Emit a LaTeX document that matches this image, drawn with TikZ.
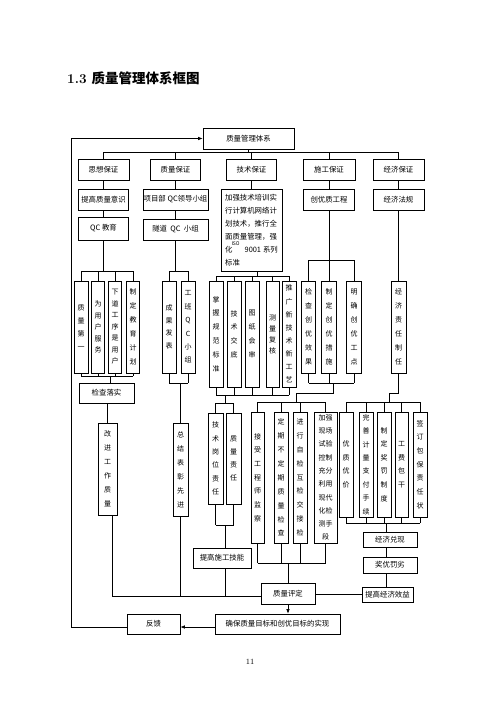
\documentclass[tikz,border=0pt]{standalone}
\usepackage{fontspec}
\newfontfamily\cjk{Noto Sans CJK SC}
\usetikzlibrary{arrows.meta}
\tikzset{
  ln/.style={line width=0.6pt},
  hbox/.style={draw, ln, inner sep=0pt, font=\cjk\fontsize{7.4}{9}\selectfont},
  vbox/.style={draw, ln, inner sep=0pt, align=center, font=\cjk\fontsize{7}{#1}\selectfont},
  vbox/.default=13.5,
  sz/.style 2 args={minimum width=#1pt, minimum height=#2pt},
  arr/.style={ln, -{Latex[length=4.5pt,width=3.5pt]}},
}
\begin{document}
\begin{tikzpicture}[x=1pt,y=-1pt]
\useasboundingbox (0,0) rectangle (500,707);
% title
\node[anchor=west, inner sep=0pt] (title) at (67,78) {\fontsize{13.5}{15}\selectfont\bfseries 1.3 {\cjk\bfseries 质量管理体系框图}};
% top
\node[hbox, sz={91}{21}] (top) at (248.5,138.5) {质量管理体系};
\node[hbox, sz={51}{21}] (ss) at (103.5,170) {思想保证};
\node[hbox, sz={50}{21}] (zb) at (175.5,170) {质量保证};
\node[hbox, sz={50}{21}] (js) at (251.5,170) {技术保证};
\node[hbox, sz={52}{21}] (sg) at (329,170) {施工保证};
\node[hbox, sz={51}{21}] (jj) at (398.5,170) {经济保证};
\coordinate (bus) at (0,152);
\draw[ln] (ss.north |- bus) -- (jj.north |- bus);
\foreach \n in {ss,zb,js,sg,jj} \draw[ln] (\n.north) -- (\n.north |- bus);
\draw[ln] (top.south) -- (top.south |- bus);
% level 3
\node[hbox, sz={50}{21}] (tg) at (103.5,199.5) {提高质量意识};
\node[hbox, sz={50}{23}] (qc) at (103.5,228.5) {QC 教育};
\node[hbox, sz={65}{21}] (xm) at (175.5,199.5) {项目部 QC领导小组};
\node[hbox, sz={65}{21}] (sd) at (175.5,229.5) {隧道\ \ QC\ \ 小组};
\node[hbox, sz={61}{82}, align=left, font=\cjk\fontsize{7.4}{13}\selectfont] (jq) at (251.5,230) {加强技术培训实\\行计算机网络计\\划技术，推行全\\面质量管理，强\\化\hspace{-1pt}\smash{\raisebox{7pt}{\fontsize{5}{5}\selectfont ISO}}\hspace{5pt}9001\hspace{2pt}系列\\标准};
\node[hbox, sz={51}{21}] (cy) at (329,199.5) {创优质工程};
\node[hbox, sz={51}{21}] (jf) at (398.5,199.5) {经济法规};
\draw[ln] (ss) -- (tg);
\draw[ln] (tg) -- (qc);
\draw[ln] (zb) -- (xm);
\draw[ln] (xm) -- (sd);
\draw[ln] (js) -- (jq);
\draw[ln] (sg) -- (cy);
\draw[ln] (jj) -- (jf);
% group A
\coordinate (abus) at (0,271);
\node[vbox=13, sz={14}{92}] (a1) at (81,327) {质\\量\\第\\一};
\node[vbox=11.5, sz={13}{92}] (a2) at (98,327) {为\\用\\户\\服\\务};
\node[vbox=11.5, sz={13}{92}] (a3) at (115,327) {下\\道\\工\\序\\是\\用\\户};
\node[vbox=14, sz={13}{92}] (a4) at (133,327) {制\\定\\教\\育\\计\\划};
\draw[ln] (a1.north |- abus) -- (a4.north |- abus);
\foreach \n in {a1,a2,a3,a4} \draw[ln] (\n.north) -- (\n.north |- abus);
\draw[ln] (qc.south) -- (qc.south |- abus);
\coordinate (abot) at (0,376);
\draw[ln] (a1.south |- abot) -- (a4.south |- abot);
\foreach \n in {a1,a2,a3,a4} \draw[ln] (\n.south) -- (\n.south |- abot);
\node[hbox, sz={55}{20}] (jc) at (106.5,393) {检查落实};
\coordinate (aj) at (110,376);
\draw[ln] (aj) -- (aj |- jc.north);
\node[vbox=14, sz={19}{92}] (gj) at (107.5,469) {改\\进\\工\\作\\质\\量};
\draw[ln] (gj.north |- jc.south) -- (gj.north);
\coordinate (lbus) at (0,596);
\coordinate (gjx) at (112,0);
\draw[ln] (gjx |- gj.south) -- (gjx |- lbus);
% group B
\node[vbox=12.5, sz={14}{92}] (b1) at (169,327) {成\\果\\发\\表};
\node[vbox=13.4, sz={14}{92}] (b2) at (188,327) {工\\班\\Q\\C\\小\\组};
\draw[ln] (b1.north |- abus) -- (b2.north |- abus);
\foreach \n in {b1,b2} \draw[ln] (\n.north) -- (\n.north |- abus);
\draw[ln] (sd.south) -- (sd.south |- abus);
\coordinate (bbot) at (0,383);
\draw[ln] (b1.south |- bbot) -- (b2.south |- bbot);
\foreach \n in {b1,b2} \draw[ln] (\n.south) -- (\n.south |- bbot);
\node[vbox=14, sz={15}{93}] (zj) at (180.5,469.5) {总\\结\\表\\彰\\先\\进};
\draw[ln] (zj.north |- bbot) -- (zj.north);
\draw[ln] (zj.south) -- (zj.south |- lbus);
% group C
\coordinate (cbus) at (0,276);
\node[vbox=13.8, sz={14}{106}] (c1) at (216,334) {掌\\握\\规\\范\\标\\准};
\node[vbox=13.7, sz={14}{106}] (c2) at (234,334) {技\\术\\交\\底};
\node[vbox=13.7, sz={14}{106}] (c3) at (252,334) {图\\纸\\会\\审};
\node[vbox=11, sz={13}{106}] (c4) at (272.5,334) {测\\量\\复\\核};
\node[vbox=13.1, sz={14}{106}] (c5) at (289,334) {推\\广\\新\\技\\术\\新\\工\\艺};
\coordinate (cj) at (257,0);
\draw[ln] (cj |- jq.south) -- (cj |- cbus);
\draw[ln] (c1.north |- cbus) -- (c5.north |- cbus);
\foreach \n in {c1,c2,c3,c4,c5} \draw[ln] (\n.north) -- (\n.north |- cbus);
\coordinate (cbot) at (0,395);
\draw[ln] (c1.south |- cbot) -- (c5.south |- cbot);
\foreach \n in {c1,c2,c3,c4,c5} \draw[ln] (\n.south) -- (\n.south |- cbot);
\coordinate (dbus) at (0,403);
\node[vbox=13.3, sz={15}{91}] (d1) at (215.5,458.5) {技\\术\\岗\\位\\责\\任};
\node[vbox=13, sz={15}{91}] (d2) at (233.5,458.5) {质\\量\\责\\任};
\coordinate (dj) at (225,0);
\draw[ln] (dj |- cbot) -- (dj |- dbus);
\draw[ln] (d1.north |- dbus) -- (d2.north |- dbus);
\foreach \n in {d1,d2} \draw[ln] (\n.north) -- (\n.north |- dbus);
\coordinate (dbot) at (0,525);
\draw[ln] (d1.south |- dbot) -- (d2.south |- dbot);
\foreach \n in {d1,d2} \draw[ln] (\n.south) -- (\n.south |- dbot);
\node[hbox, sz={58}{20}] (tgs) at (222,558) {提高施工技能};
\draw[ln] (dj |- dbot) -- (dj |- tgs.north);
\draw[ln] (dj |- tgs.south) -- (dj |- lbus);
% group D
\coordinate (ebus) at (0,260);
\node[vbox=14, sz={14}{92}] (e1) at (308.5,327) {检\\查\\创\\优\\效\\果};
\node[vbox=14, sz={15}{92}] (e2) at (329,327) {制\\定\\创\\优\\措\\施};
\node[vbox=14, sz={15}{92}] (e3) at (354,327) {明\\确\\创\\优\\工\\点};
\draw[ln] (cy) -- (e2);
\draw[ln] (e1.north |- ebus) -- (e3.north |- ebus);
\foreach \n in {e1,e3} \draw[ln] (\n.north) -- (\n.north |- ebus);
\coordinate (ebot) at (0,383);
\draw[ln] (e1.south |- ebot) -- (e3.south |- ebot);
\foreach \n in {e1,e2,e3} \draw[ln] (\n.south) -- (\n.south |- ebot);
\coordinate (ej1) at (333,383);
\coordinate (ej2) at (296,393);
\coordinate (fbus) at (0,402);
\draw[ln] (ej1) |- (ej2) -- (ej2 |- fbus);
\node[vbox=13.7, sz={13}{131}] (f1) at (257.5,477.5) {接\\受\\工\\程\\师\\监\\察};
\node[vbox=13.9, sz={14}{131}] (f2) at (281,477.5) {定\\期\\不\\定\\期\\质\\量\\检\\查};
\node[vbox=13.9, sz={14}{131}] (f3) at (300,477.5) {进\\行\\自\\检\\互\\检\\交\\接\\检};
\node[vbox=13.3, sz={23}{131}] (f4) at (325.5,477.5) {加强\\现场\\试验\\控制\\充分\\利用\\现代\\化检\\测手\\段};
\draw[ln] (f1.north |- fbus) -- (f4.north |- fbus);
\foreach \n in {f1,f2,f3,f4} \draw[ln] (\n.north) -- (\n.north |- fbus);
\coordinate (fbot) at (0,563);
\draw[ln] (f1.south |- fbot) -- (f4.south |- fbot);
\foreach \n in {f1,f2,f3,f4} \draw[ln] (\n.south) -- (\n.south |- fbot);
\node[hbox, sz={54}{21}] (qp) at (288,593.5) {质量评定};
\draw[ln] (qp.north |- fbot) -- (qp.north);
\node[hbox, sz={125}{20}] (qb) at (277.5,624) {确保质量目标和创优目标的实现};
\draw[arr] (qp.south) -- (qp.south |- qb.north);
\draw[ln] (gjx |- lbus) -- (qp.west |- lbus);
% group E
\node[vbox=14, sz={15}{92}] (g1) at (398.5,327) {经\\济\\责\\任\\制\\任};
\draw[ln] (jf) -- (g1);
\coordinate (gj2) at (389,393);
\coordinate (hbus) at (0,402);
\draw[ln] (g1.south) |- (gj2) -- (gj2 |- hbus);
\node[vbox=13.7, sz={14}{105}] (h1) at (346,464.5) {优\\质\\优\\价};
\node[vbox=13.4, sz={14}{105}] (h2) at (366,464.5) {完\\善\\计\\量\\支\\付\\手\\续};
\node[vbox=13.6, sz={14}{105}] (h3) at (384,464.5) {制\\定\\奖\\罚\\制\\度};
\node[vbox=13.5, sz={13}{105}] (h4) at (401.5,464.5) {工\\费\\包\\干};
\node[vbox=13.7, sz={14}{105}] (h5) at (420,464.5) {签\\订\\包\\保\\责\\任\\状};
\draw[ln] (h1.north |- hbus) -- (h5.north |- hbus);
\foreach \n in {h1,h2,h3,h4,h5} \draw[ln] (\n.north) -- (\n.north |- hbus);
\coordinate (hbot) at (0,523);
\draw[ln] (h1.south |- hbot) -- (h5.south |- hbot);
\foreach \n in {h1,h2,h3,h4,h5} \draw[ln] (\n.south) -- (\n.south |- hbot);
\coordinate (hj) at (386,523);
\node[hbox, sz={54}{15}] (jd) at (390,539.5) {经济兑现};
\node[hbox, sz={54}{16}] (jy) at (390,565) {奖优罚劣};
\node[hbox, sz={51}{15}] (tj) at (387.5,594.5) {提高经济效益};
\draw[ln] (hj) -- (hj |- jd.north);
\draw[ln] (hj |- jd.south) -- (hj |- jy.north);
\draw[ln] (hj |- jy.south) -- (hj |- tj.north);
\draw[ln] (qp.east |- tj.west) -- (tj.west);
% feedback
\node[hbox, sz={53}{20}] (fk) at (153.5,624) {反馈};
\coordinate (qbw) at ([yshift=-3pt]qb.west);
\coordinate (fke) at ([yshift=-3pt]fk.east);
\coordinate (fkw) at ([yshift=-3pt]fk.west);
\coordinate (lx) at (71,0);
\draw[arr] (qbw) -- (fke);
\draw[arr] (fkw) -- (fkw -| lx) |- (top.west);
% page number
\node (pg) at (250,662) {\fontsize{8}{9}\selectfont 11};
\end{tikzpicture}
\end{document}
